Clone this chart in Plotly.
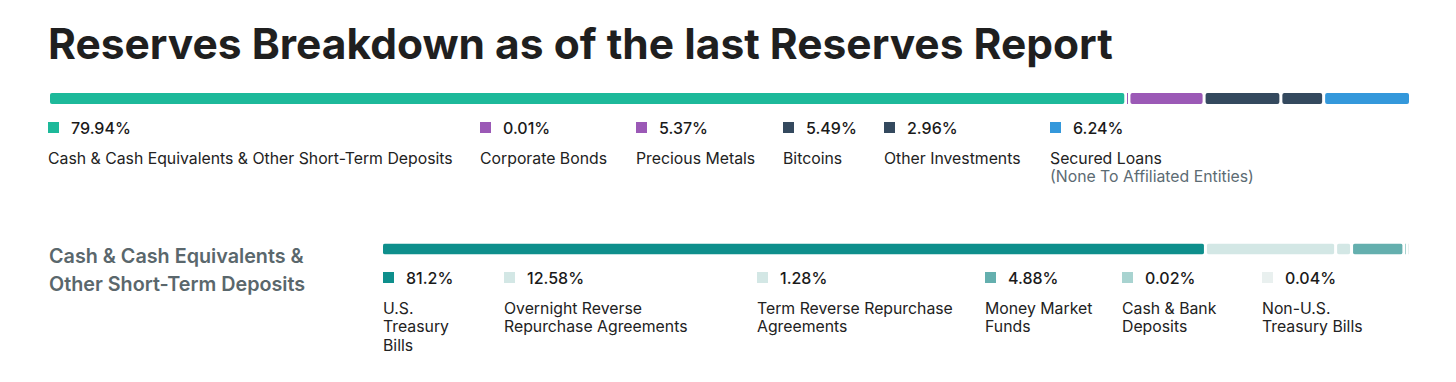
import plotly.graph_objects as go
import numpy as np

W, H = 1456, 382
OFF = 8  # page body margin

title = "Reserves Breakdown as of the last Reserves Report"

# Top breakdown
top_labels = ["Cash & Cash Equivalents & Other Short-Term Deposits", "Corporate Bonds",
              "Precious Metals", "Bitcoins", "Other Investments", "Secured Loans"]
top_sub = ["", "", "", "", "", "(None To Affiliated Entities)"]
top_values = [79.94, 0.01, 5.37, 5.49, 2.96, 6.24]
top_colors = ["#1DB99A", "#9B59B6", "#9B59B6", "#34495E", "#34495E", "#3498DB"]

# Cash breakdown
sub_title = ["Cash & Cash Equivalents &", "Other Short-Term Deposits"]
cash_labels = ["U.S.\nTreasury\nBills", "Overnight Reverse\nRepurchase Agreements",
               "Term Reverse Repurchase\nAgreements", "Money Market\nFunds",
               "Cash & Bank\nDeposits", "Non-U.S.\nTreasury Bills"]
cash_values = [81.2, 12.58, 1.28, 4.88, 0.02, 0.04]
cash_colors = ["#0E8F8C", "#D3E7E5", "#D3E7E5", "#64AFAE", "#A8D3D0", "#E9F0EF"]

# layout positions (pixels)
top_item_x = [48, 480, 636, 783, 884, 1050]
cash_item_x = [383, 504, 757, 985, 1122, 1262]
GAP_PX = 3


def px(x):
    return (x - OFF) / W


def py(y):
    return 1 - (y - OFF) / H


fig = go.Figure()


def add_bar(values, colors, xa, ya, x0, x1):
    n = len(values)
    total = float(sum(values))
    gap = GAP_PX * total / ((x1 - x0) - GAP_PX * (n - 1))
    base = np.concatenate([[0], np.cumsum(values)[:-1]]) + gap * np.arange(n)
    for v, b, c in zip(values, base, colors):
        fig.add_trace(go.Bar(
            x=[v], base=[b], y=[0], orientation="h", width=1,
            marker=dict(color=c, line=dict(width=0), cornerradius=2),
            xaxis=xa, yaxis=ya, hoverinfo="skip", showlegend=False))
    return [0, total + gap * (n - 1)]


r1 = add_bar(top_values, top_colors, "x", "y", 50, 1409)
r2 = add_bar(cash_values, cash_colors, "x2", "y2", 383, 1409)

annotations = []
shapes = []

annotations.append(dict(text=title, x=px(46), y=py(44), xref="paper", yref="paper",
                        xanchor="left", yanchor="middle", showarrow=False,
                        font=dict(family="Inter", size=42.5, color="#1F1F1F", weight=700)))


def legend_item(x, y_sq, color, pct, lines, sub=None, line_gap=19):
    shapes.append(dict(type="rect", xref="paper", yref="paper",
                       x0=px(x), x1=px(x + 11), y0=py(y_sq - 5.5), y1=py(y_sq + 5.5),
                       fillcolor=color, line=dict(width=0)))
    annotations.append(dict(text=pct, x=px(x + 21), y=py(y_sq), xref="paper", yref="paper",
                            xanchor="left", yanchor="middle", showarrow=False,
                            font=dict(family="Inter", size=16, color="#1A1A1A", weight=500)))
    for i, ln in enumerate(lines):
        annotations.append(dict(text=ln, x=px(x - 2), y=py(y_sq + 30.5 + i * line_gap),
                                xref="paper", yref="paper", xanchor="left", yanchor="middle",
                                showarrow=False,
                                font=dict(family="Inter", size=15.8, color="#222222")))
    if sub:
        annotations.append(dict(text=sub, x=px(x - 2), y=py(y_sq + 49), xref="paper",
                                yref="paper", xanchor="left", yanchor="middle",
                                showarrow=False,
                                font=dict(family="Inter", size=15.8, color="#5C6B73")))


for x, c, v, lab, sb in zip(top_item_x, top_colors, top_values, top_labels, top_sub):
    legend_item(x, 127.5, c, f"{v:.2f}%", [lab], sb)

for x, c, v, lab in zip(cash_item_x, cash_colors, cash_values, cash_labels):
    pct = f"{v:g}%" if v == 81.2 else f"{v:.2f}%"
    legend_item(x, 277.5, c, pct, lab.split("\n"), line_gap=18.5)

for i, ln in enumerate(sub_title):
    annotations.append(dict(text=ln, x=px(47), y=py(256 + i * 28), xref="paper", yref="paper",
                            xanchor="left", yanchor="middle", showarrow=False,
                            font=dict(family="Inter", size=19.75, color="#5A676C", weight=600)))

ax_common = dict(visible=False, fixedrange=True)
fig.update_layout(
    width=W, height=H, margin=dict(l=0, r=0, t=0, b=0),
    paper_bgcolor="white", plot_bgcolor="white",
    barmode="overlay",
    xaxis=dict(domain=[px(50), px(1409)], range=r1, **ax_common),
    yaxis=dict(domain=[py(104), py(93)], range=[-0.5, 0.5], **ax_common),
    xaxis2=dict(domain=[px(383), px(1409)], range=r2, anchor="y2", **ax_common),
    yaxis2=dict(domain=[py(254.5), py(243.5)], range=[-0.5, 0.5], anchor="x2", **ax_common),
    annotations=annotations, shapes=shapes,
)

fig.write_html("out.html")
